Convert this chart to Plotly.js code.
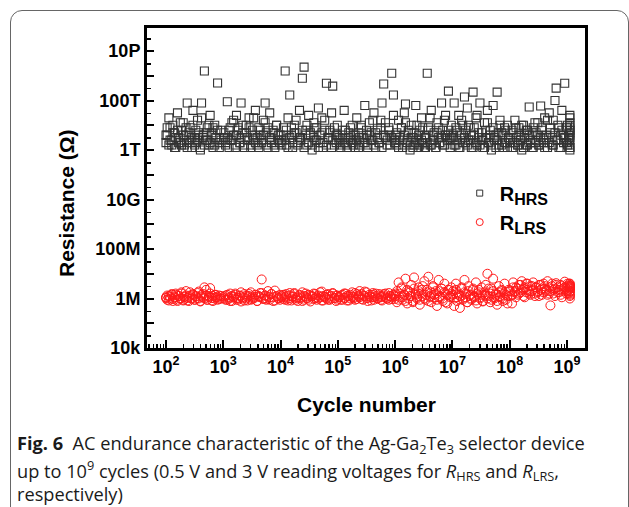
<!DOCTYPE html>
<html>
<head>
<meta charset="utf-8">
<script src="https://cdn.plot.ly/plotly-3.0.1.min.js"></script>
<style>
  html, body { margin: 0; padding: 0; background: #fff; }
  #wrap { position: relative; width: 629px; height: 507px; overflow: hidden; }
  #chart { position: absolute; left: 0; top: 0; width: 629px; height: 507px; }
  #frame { position: absolute; left: 10px; top: 10px; width: 617px; height: 520px;
           border: 1.3px solid #666; border-radius: 12px; pointer-events: none; }
</style>
</head>
<body>
<div id="wrap">
  <div id="chart"></div>
  <div id="frame"></div>
</div>
<script>
// log10(cycle number) for each measurement
const logCycles = [
  2.00,2.02,2.05,2.07,2.10,2.12,2.15,2.17,2.20,2.22,2.25,2.27,2.30,2.32,2.35,2.37,2.40,2.42,2.45,2.47,
  2.50,2.52,2.55,2.57,2.60,2.62,2.65,2.67,2.70,2.72,2.75,2.77,2.80,2.82,2.85,2.87,2.90,2.93,2.96,
  3.01,3.04,3.07,3.10,3.12,3.15,3.18,3.21,3.23,3.26,3.29,3.31,3.34,3.37,3.40,3.42,3.45,3.48,3.51,3.53,
  3.56,3.59,3.62,3.64,3.67,3.70,3.73,3.75,3.78,3.81,3.84,3.87,3.90,3.93,3.96,3.99,
  4.02,4.05,4.08,4.10,4.13,4.16,4.19,4.21,4.24,4.27,4.30,4.33,4.35,4.38,4.41,4.44,4.46,4.49,4.52,4.55,
  4.58,4.60,4.63,4.66,4.69,4.72,4.74,4.77,4.80,4.83,4.86,4.89,4.91,4.94,4.97,4.99,
  5.02,5.05,5.08,5.11,5.13,5.16,5.19,5.22,5.25,5.27,5.30,5.33,5.36,5.38,5.41,5.44,5.47,5.50,5.52,5.55,
  5.58,5.61,5.63,5.66,5.69,5.72,5.75,5.77,5.80,5.83,5.86,5.89,5.91,5.94,5.97,5.99,
  6.01,6.03,6.06,6.08,6.11,6.13,6.16,6.18,6.21,6.23,6.26,6.28,6.31,6.33,6.36,6.38,6.41,6.43,6.46,6.48,
  6.51,6.53,6.56,6.58,6.61,6.63,6.66,6.68,6.71,6.73,6.76,6.78,6.81,6.83,6.86,6.88,6.91,6.93,6.96,6.98,
  7.01,7.03,7.06,7.08,7.11,7.13,7.16,7.18,7.21,7.23,7.26,7.28,7.31,7.33,7.36,7.38,7.41,7.43,7.46,7.48,
  7.51,7.53,7.56,7.58,7.61,7.63,7.66,7.68,7.71,7.73,7.76,7.78,7.81,7.83,7.86,7.88,7.91,7.93,7.96,7.98,
  8.01,8.04,8.06,8.09,8.11,8.14,8.16,8.19,8.21,8.24,8.26,8.29,8.31,8.34,8.36,8.39,8.41,8.44,8.46,8.49,
  8.51,8.54,8.56,8.59,8.61,8.64,8.66,8.69,8.71,8.74,8.76,8.79,8.81,8.84,8.86,8.89,8.91,8.94,8.96,8.99,
  9.01,9.03,9.04,9.05,9.05,9.05,9.05,9.05,9.05,9.05
];

// log10(R_HRS / ohm), first read
const logRHRS = [
  12.6,12.9,13.3,12.4,12.2,13.0,12.7,12.1,13.5,12.5,12.3,12.8,13.1,12.2,12.6,13.9,12.4,12.9,12.1,13.6,
  12.5,12.3,13.2,12.7,12.0,13.9,12.6,15.19,12.4,12.9,12.2,13.4,12.7,12.1,13.0,12.5,14.71,12.3,12.8,
  12.5,12.2,13.95,12.8,12.4,13.1,12.6,12.1,13.4,12.9,12.3,13.9,12.7,12.2,13.0,12.5,13.3,12.1,12.8,12.4,
  13.6,12.2,12.9,12.6,12.3,13.2,13.9,12.7,12.1,13.5,12.4,12.8,12.2,13.0,12.6,12.3,
  12.4,12.9,15.19,12.2,13.3,14.22,12.6,12.1,13.0,12.7,12.3,13.6,12.5,14.9,15.35,12.8,12.2,13.4,12.6,12.0,
  13.1,12.4,12.9,13.7,12.3,12.7,12.1,13.2,14.7,12.5,12.8,13.5,14.58,12.2,12.6,13.0,
  12.5,12.2,12.8,13.6,12.3,12.1,12.7,12.4,13.0,12.2,12.6,13.3,12.1,12.5,12.9,12.3,13.8,12.6,12.2,13.1,
  12.7,12.4,13.5,12.1,12.8,12.3,13.2,13.9,14.67,12.5,12.2,12.9,12.6,15.1,14.22,12.4,
  12.6,12.2,13.2,12.4,12.9,12.1,13.5,13.86,12.3,12.7,12.0,13.0,12.5,12.2,13.8,12.4,12.1,12.8,13.3,12.3,
  12.6,12.1,15.1,12.9,12.2,13.6,12.4,12.7,12.1,13.1,12.5,12.3,13.9,12.8,12.2,13.4,12.6,14.38,12.4,13.0,
  12.5,13.9,12.2,12.8,13.4,12.1,12.6,13.0,14.14,12.3,13.7,12.4,12.9,12.1,14.34,12.6,13.3,12.2,12.7,13.9,
  12.4,12.1,13.1,12.5,13.6,12.3,12.8,12.0,13.8,12.4,12.6,14.34,12.2,13.2,12.7,12.1,12.9,12.3,13.0,12.5,
  12.3,12.8,12.1,13.2,12.5,12.2,12.9,12.4,12.0,13.0,12.6,12.2,12.8,13.74,12.3,12.7,12.1,13.1,12.4,12.6,
  12.2,13.78,12.9,12.3,13.3,12.5,12.1,13.5,12.7,12.2,13.2,14.0,14.5,12.4,12.9,12.1,13.6,12.6,14.7,12.3,
  13.0,12.5,12.2,12.8,12.1,12.4,12.7,13.0,13.3,12.0
];

// log10(R_HRS / ohm), second read at the same cycles
const logRHRS2 = [
  12.3,12.6,12.2,12.9,12.4,12.7,12.1,12.5,12.8,12.3,13.1,12.2,12.6,12.4,12.9,12.1,12.7,12.3,12.5,13.0,
  12.2,12.8,12.4,12.6,12.1,13.3,12.5,12.2,12.7,12.4,13.0,12.3,12.6,12.9,12.2,12.5,12.8,12.1,12.4,
  12.7,12.3,12.5,12.1,12.9,12.4,13.2,12.2,12.6,12.8,12.3,12.5,13.0,12.1,12.7,12.4,12.9,12.2,12.6,13.3,
  12.3,12.5,12.1,12.8,12.4,12.6,13.1,12.2,12.9,12.5,12.3,12.7,12.1,13.0,12.4,12.6,
  12.2,12.6,12.4,12.8,12.1,12.5,12.9,12.3,12.7,13.2,12.2,12.5,12.4,12.8,12.1,12.6,13.0,12.3,12.7,12.2,
  12.5,12.9,12.4,12.1,12.6,13.3,12.3,12.8,12.2,12.5,12.7,12.1,12.4,12.9,12.3,12.6,
  12.4,12.1,12.6,12.3,12.8,12.2,12.5,12.9,12.3,12.6,12.1,12.4,12.7,12.2,13.0,12.5,12.3,12.8,12.1,12.6,
  12.4,13.2,12.2,12.7,12.5,12.3,12.9,12.1,12.6,13.1,12.4,12.8,12.2,12.5,13.4,12.3,
  12.3,12.7,12.1,12.5,12.9,12.2,12.6,13.1,12.4,12.8,12.2,12.5,12.1,12.7,12.3,13.0,12.6,12.2,12.4,12.9,
  12.1,12.5,12.3,12.8,13.3,12.2,12.6,12.4,12.1,12.7,12.9,12.3,12.5,12.2,13.2,12.6,12.4,12.8,12.1,12.5,
  12.6,12.2,12.9,12.4,12.1,12.7,13.2,12.3,12.5,12.8,12.2,13.0,12.4,12.6,12.1,12.9,12.3,13.4,12.5,12.2,
  12.7,12.4,12.1,12.8,13.1,12.3,12.6,12.2,12.9,12.5,12.1,12.4,12.7,13.0,12.2,12.6,12.3,12.8,12.1,12.5,
  12.4,12.1,12.7,12.3,12.9,12.2,12.6,12.4,13.0,12.1,12.5,12.8,12.2,12.6,12.4,12.1,12.9,12.3,12.7,13.1,
  12.2,12.5,12.8,12.4,12.1,12.6,13.2,12.3,12.9,12.5,12.2,12.7,12.4,13.0,12.1,12.6,12.8,12.3,12.5,12.9,
  12.2,12.6,12.4,13.4,12.8,12.1,12.5,12.9,13.1,12.6
];

// log10(R_LRS / ohm), first read
const logRLRS = [
  6.05,5.95,6.10,6.00,6.15,5.90,6.05,6.20,5.95,6.10,6.00,6.25,5.92,6.08,6.30,6.02,5.90,6.12,6.00,6.18,
  5.95,6.08,6.22,6.00,5.88,6.15,6.05,6.45,6.35,5.95,6.10,6.42,6.02,5.90,6.15,6.05,5.95,6.12,6.00,
  6.08,5.95,6.15,6.00,5.90,6.10,6.05,6.20,5.95,6.02,6.12,5.88,6.05,6.18,6.00,5.92,6.10,6.25,5.98,6.05,
  6.15,5.90,6.08,6.22,6.77,6.00,6.12,5.95,6.30,6.05,6.18,5.90,6.32,6.08,6.00,5.95,
  6.05,6.15,5.95,6.10,6.00,6.22,5.92,6.08,6.18,6.02,5.90,6.12,6.05,6.25,5.95,6.08,6.00,6.15,5.88,6.10,
  6.20,6.02,5.95,6.12,6.05,6.28,5.92,6.08,6.00,6.18,5.95,6.10,6.22,6.02,5.90,6.12,
  6.08,5.95,6.15,6.02,6.20,5.92,6.10,6.00,6.25,6.05,5.95,6.18,6.08,6.30,5.98,6.12,6.28,6.02,5.90,6.15,
  6.05,6.22,5.95,6.10,6.00,6.18,6.05,5.92,6.12,6.20,6.00,5.95,6.10,6.05,6.15,5.98,
  6.20,5.85,6.65,6.05,6.40,5.95,6.15,6.80,5.80,6.30,6.10,6.55,5.90,6.85,6.20,6.00,6.45,5.75,6.35,6.10,
  6.70,5.95,6.25,6.88,6.05,5.85,6.50,6.15,6.30,5.70,6.75,6.05,6.40,5.90,6.60,6.20,5.80,6.35,6.10,6.45,
  6.30,5.70,6.60,6.05,6.15,5.62,6.40,6.00,6.75,6.20,5.85,6.50,6.10,5.95,6.35,6.05,6.65,5.80,6.25,6.00,
  6.45,5.90,6.15,6.55,7.00,6.10,5.85,6.40,6.80,6.00,6.20,5.75,6.50,6.05,6.30,5.90,6.60,6.15,5.80,6.35,
  6.10,5.80,6.65,6.30,6.45,6.15,6.55,6.25,6.70,6.40,6.05,6.60,6.35,6.20,6.50,6.30,6.65,6.10,6.45,6.25,
  6.55,6.35,6.15,6.60,6.40,6.30,6.70,6.20,5.72,6.50,6.35,6.10,6.62,6.45,6.25,6.55,6.05,6.40,6.68,6.30,
  6.50,6.20,6.60,6.45,6.10,6.40,6.60,6.00,6.30,6.50
];

// log10(R_LRS / ohm), second read at the same cycles
const logRLRS2 = [
  6.02,6.12,5.92,6.08,6.18,5.98,6.05,6.15,5.90,6.10,6.00,6.20,5.95,6.05,6.12,5.92,6.08,6.25,6.00,6.15,
  5.95,6.10,6.02,6.28,5.90,6.08,6.18,6.00,6.12,5.95,6.05,6.20,5.92,6.10,6.00,6.15,6.05,5.98,6.10,
  6.00,6.12,5.95,6.05,6.20,5.90,6.08,6.15,6.02,5.95,6.10,6.25,6.00,5.92,6.12,6.05,6.18,5.95,6.08,6.00,
  6.15,5.90,6.10,6.05,6.22,5.98,6.12,6.00,6.08,5.95,6.18,6.05,5.92,6.10,6.02,6.15,
  6.10,5.98,6.05,6.18,5.92,6.12,6.00,6.08,6.22,5.95,6.05,6.15,6.00,5.90,6.10,6.20,6.02,5.95,6.12,6.08,
  5.98,6.18,6.05,6.00,6.25,5.92,6.10,6.05,6.15,5.95,6.08,6.00,6.20,6.02,6.12,5.95,
  6.05,6.12,5.95,6.20,6.02,6.10,5.92,6.15,6.08,6.00,6.22,5.98,6.12,6.05,6.18,5.95,6.10,6.25,6.02,6.08,
  5.92,6.15,6.05,6.20,6.00,6.12,5.95,6.08,6.18,6.05,6.00,6.22,6.10,5.98,6.15,6.08,
  6.10,6.30,5.95,6.20,6.45,6.05,6.15,5.90,6.35,6.00,6.25,6.10,5.85,6.40,6.15,6.05,6.30,5.95,6.20,6.50,
  6.00,6.15,6.35,5.90,6.10,6.25,6.45,6.05,6.20,5.95,6.30,6.10,6.40,6.00,6.25,5.85,6.15,6.35,6.05,6.20,
  6.15,6.00,6.35,5.90,6.20,6.10,6.45,5.95,6.25,6.05,5.85,6.30,6.15,6.00,6.40,6.10,5.92,6.20,6.35,6.05,
  6.15,5.88,6.25,6.10,6.00,6.40,6.20,5.95,6.30,6.05,6.15,5.90,6.25,6.10,6.35,6.00,6.20,5.95,6.10,6.28,
  6.30,6.15,6.45,6.25,6.05,6.40,6.20,6.55,6.35,6.10,6.45,6.25,6.60,6.30,6.15,6.50,6.35,6.20,6.45,6.30,
  6.10,6.55,6.40,6.25,6.50,6.35,6.15,6.45,6.30,6.60,6.20,6.40,6.55,6.25,6.35,6.15,6.50,6.30,6.45,6.20,
  6.60,6.35,6.25,6.50,6.40,6.15,6.30,6.55,6.20,6.45
];

// axis tick labels
const xTickExps = [2, 3, 4, 5, 6, 7, 8, 9];
const yTickExps = [4, 5, 6, 7, 8, 9, 10, 11, 12, 13, 14, 15, 16];
const yTickText = ['10k', '', '1M', '', '100M', '', '10G', '', '1T', '', '100T', '', '10P'];

const seriesNames = ['R<sub><span style="font-size:16px">HRS</span></sub>',
                     'R<sub><span style="font-size:16px">LRS</span></sub>'];

const pw = v => Math.pow(10, v);
const cycles = logCycles.map(pw);

const xMinor = [];
for (let e = 1; e <= 9; e++) for (let k = 2; k <= 9; k++) xMinor.push(k * pw(e));
const yMinor = [];
for (let e = 4; e <= 16; e++) yMinor.push(3 * pw(e));

const axisFont = { family: 'Liberation Sans, Arial, sans-serif', size: 18, color: '#000', weight: 'bold' };
const hrsColor = '#333333';
const lrsColor = '#ff1a1a';

const hrsMarker = { symbol: 'square-open', size: 8, color: hrsColor, line: { width: 1.1, color: hrsColor } };
const lrsMarker = { symbol: 'circle-open', size: 9, color: lrsColor, line: { width: 1, color: lrsColor } };

const traces = [
  { x: cycles, y: logRHRS.map(pw), type: 'scatter', mode: 'markers', showlegend: false, marker: hrsMarker },
  { x: cycles, y: logRHRS2.map(pw), type: 'scatter', mode: 'markers', showlegend: false, marker: hrsMarker },
  { x: cycles, y: logRLRS.map(pw), type: 'scatter', mode: 'markers', showlegend: false, marker: lrsMarker },
  { x: cycles, y: logRLRS2.map(pw), type: 'scatter', mode: 'markers', showlegend: false, marker: lrsMarker },
  { x: [null], y: [null], type: 'scatter', mode: 'markers', name: seriesNames[0],
    marker: { symbol: 'square-open', size: 6, color: hrsColor, line: { width: 1 } } },
  { x: [null], y: [null], type: 'scatter', mode: 'markers', name: seriesNames[1],
    marker: { symbol: 'circle-open', size: 7, color: lrsColor, line: { width: 1 } } }
];

const captionFont = { family: 'Open Sans, sans-serif', size: 18.2, color: '#1a1a1a' };

const layout = {
  width: 629, height: 507,
  margin: { l: 147, r: 44, t: 28, b: 159 },
  paper_bgcolor: 'rgba(0,0,0,0)', plot_bgcolor: '#fff',
  showlegend: true,
  legend: { x: 0.714, y: 0.545, xanchor: 'left', yanchor: 'top', bgcolor: 'rgba(0,0,0,0)',
            font: { family: 'Liberation Sans, Arial, sans-serif', size: 20, color: '#000', weight: 'bold' },
            tracegroupgap: 0, itemwidth: 30 },
  xaxis: {
    type: 'log', range: [1.668, 9.314],
    showline: true, linewidth: 3, linecolor: '#000', mirror: true,
    showgrid: false, zeroline: false,
    tickmode: 'array', tickvals: xTickExps.map(pw),
    ticktext: xTickExps.map(e => '10<sup>' + e + '</sup>'),
    ticks: 'inside', ticklen: 8, tickwidth: 2, tickcolor: '#000',
    tickfont: axisFont,
    minor: { tickmode: 'array', tickvals: xMinor, ticks: 'inside', ticklen: 4, tickwidth: 1.5, tickcolor: '#000' }
  },
  yaxis: {
    type: 'log', range: [4, 16.93],
    showline: true, linewidth: 3, linecolor: '#000', mirror: true,
    showgrid: false, zeroline: false,
    tickmode: 'array', tickvals: yTickExps.map(pw), ticktext: yTickText,
    ticks: 'inside', ticklen: 7, tickwidth: 2, tickcolor: '#000',
    tickfont: axisFont,
    minor: { tickmode: 'array', tickvals: yMinor, ticks: 'inside', ticklen: 4, tickwidth: 1.5, tickcolor: '#000' }
  },
  annotations: [
    { text: 'Cycle number', xref: 'paper', yref: 'paper', x: 0.5, y: -0.178,
      xanchor: 'center', yanchor: 'middle', showarrow: false,
      font: { family: 'Liberation Sans, Arial, sans-serif', size: 21, color: '#000', weight: 'bold' } },
    { text: 'Resistance (Ω)', xref: 'paper', yref: 'paper', x: -0.185, y: 0.453, textangle: -90,
      xanchor: 'center', yanchor: 'middle', showarrow: false,
      font: { family: 'Liberation Sans, Arial, sans-serif', size: 21, color: '#000', weight: 'bold' } },
    { text: '<b>Fig. 6</b>\u00a0\u00a0AC endurance characteristic of the Ag-Ga<sub>2</sub>Te<sub>3</sub> selector device',
      xref: 'paper', yref: 'paper', x: -0.3014, y: -0.300, xanchor: 'left', yanchor: 'middle',
      showarrow: false, align: 'left', font: captionFont },
    { text: 'up to 10<sup>9</sup> cycles (0.5 V and 3 V reading voltages for <i>R</i><sub>HRS</sub> and <i>R</i><sub>LRS</sub>,',
      xref: 'paper', yref: 'paper', x: -0.3014, y: -0.3825, xanchor: 'left', yanchor: 'middle',
      showarrow: false, align: 'left', font: captionFont },
    { text: 'respectively)',
      xref: 'paper', yref: 'paper', x: -0.3014, y: -0.4560, xanchor: 'left', yanchor: 'middle',
      showarrow: false, align: 'left', font: captionFont }
  ]
};

Plotly.newPlot('chart', traces, layout, { displayModeBar: false, staticPlot: true });
</script>
</body>
</html>
